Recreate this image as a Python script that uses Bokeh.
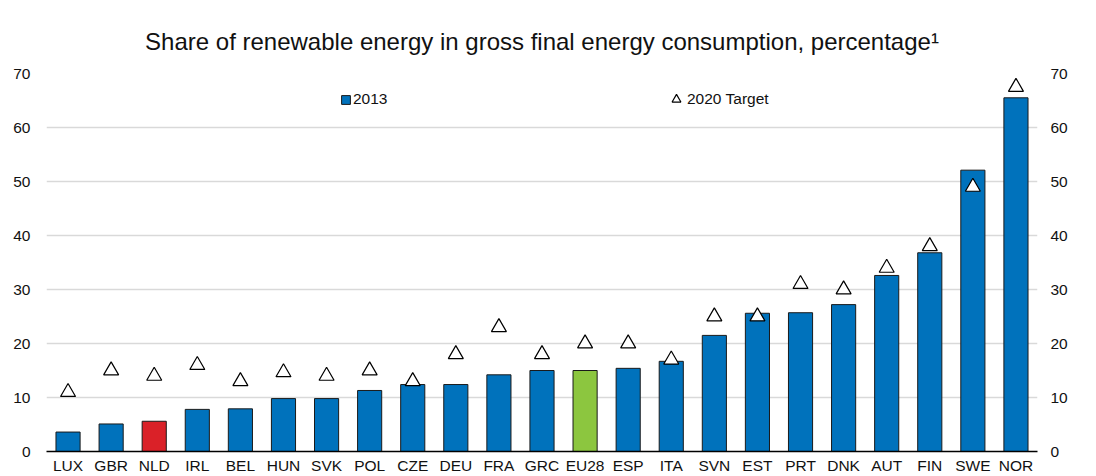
from bokeh.plotting import figure
from bokeh.models import (FactorRange, LinearAxis, Range1d, Legend, LegendItem,
                          ColumnDataSource, Title, FixedTicker)
from bokeh.embed import file_html
from bokeh.resources import INLINE

countries = ["LUX", "GBR", "NLD", "IRL", "BEL", "HUN", "SVK", "POL", "CZE", "DEU",
             "FRA", "GRC", "EU28", "ESP", "ITA", "SVN", "EST", "PRT", "DNK", "AUT",
             "FIN", "SWE", "NOR"]
share_2013 = [3.6, 5.1, 5.6, 7.8, 7.9, 9.8, 9.8, 11.3, 12.4, 12.4,
              14.2, 15.0, 15.0, 15.4, 16.7, 21.5, 25.6, 25.7, 27.2, 32.6,
              36.8, 52.1, 65.5]
target_2020 = [11, 15, 14, 16, 13, 14.65, 14, 15, 13, 18,
               23, 18, 20, 20, 17, 25, 25, 31, 30, 34,
               38, 49, 67.5]
title_text = "Share of renewable energy in gross final energy consumption, percentage\u00b9"

BLUE = "#0072BC"
RED = "#DA2128"
GREEN = "#8CC63F"
highlight = {"NLD": RED, "EU28": GREEN}
colors = [highlight.get(c, BLUE) for c in countries]

src = ColumnDataSource(dict(x=countries, top=share_2013, target=target_2020, color=colors))

FONT = "Liberation Sans"

p = figure(x_range=FactorRange(*countries, range_padding=0),
           y_range=Range1d(0, 70),
           width=1096, height=476,
           min_border_left=46, min_border_right=59, min_border_top=73, min_border_bottom=21,
           output_backend="svg", toolbar_location=None,
           background_fill_color="white", border_fill_color="white")
p.outline_line_color = None

bars = p.vbar(x="x", top="top", width=0.56, source=src, fill_color="color",
              line_color="#1a1a1a", line_width=1)
tri = p.scatter(x="x", y="target", source=src, marker="triangle", size=15,
                fill_color="white", line_color="black", line_width=1.2)

t = Title(text=title_text, align="center", text_font=FONT, text_font_size="24px",
          text_font_style="normal", text_color="#111111", standoff=37)
p.add_layout(t, "above")

ticks = [0, 10, 20, 30, 40, 50, 60, 70]
p.yaxis.ticker = FixedTicker(ticks=ticks)
p.add_layout(LinearAxis(ticker=FixedTicker(ticks=ticks)), "right")

for ax in p.yaxis:
    ax.axis_line_color = None
    ax.major_tick_line_color = None
    ax.minor_tick_line_color = None
    ax.major_tick_out = 0
    ax.major_tick_in = 0
    ax.minor_tick_out = 0
    ax.major_label_text_font = FONT
    ax.major_label_text_font_size = "15.5px"
    ax.major_label_text_color = "#111111"
p.yaxis[0].major_label_standoff = 16
p.yaxis[1].major_label_standoff = 13

xa = p.xaxis[0]
xa.axis_line_color = "black"
xa.axis_line_width = 1.5
xa.major_tick_line_color = None
xa.minor_tick_line_color = None
xa.major_tick_out = 0
xa.major_tick_in = 0
xa.major_label_text_font = FONT
xa.major_label_text_font_size = "15.5px"
xa.major_label_text_color = "#111111"
xa.major_label_standoff = 5

p.xgrid.grid_line_color = None
p.ygrid.grid_line_color = "#d9d9d9"
p.ygrid.grid_line_width = 1.5

common = dict(orientation="horizontal", padding=0, margin=0, border_line_color=None,
              background_fill_alpha=0, label_text_font=FONT, label_text_font_size="15.5px",
              label_text_color="#111111")
legend1 = Legend(items=[LegendItem(label="2013", renderers=[bars], index=0)],
                 location=(294, 343), glyph_width=11, glyph_height=11,
                 label_standoff=2, label_height=12, **common)
legend2 = Legend(items=[LegendItem(label="2020 Target", renderers=[tri], index=0)],
                 location=(619, 341), glyph_width=22, glyph_height=22,
                 label_standoff=-8, label_height=22, **common)
p.add_layout(legend1, "center")
p.add_layout(legend2, "center")

open("out.html", "w").write(file_html(p, INLINE))
